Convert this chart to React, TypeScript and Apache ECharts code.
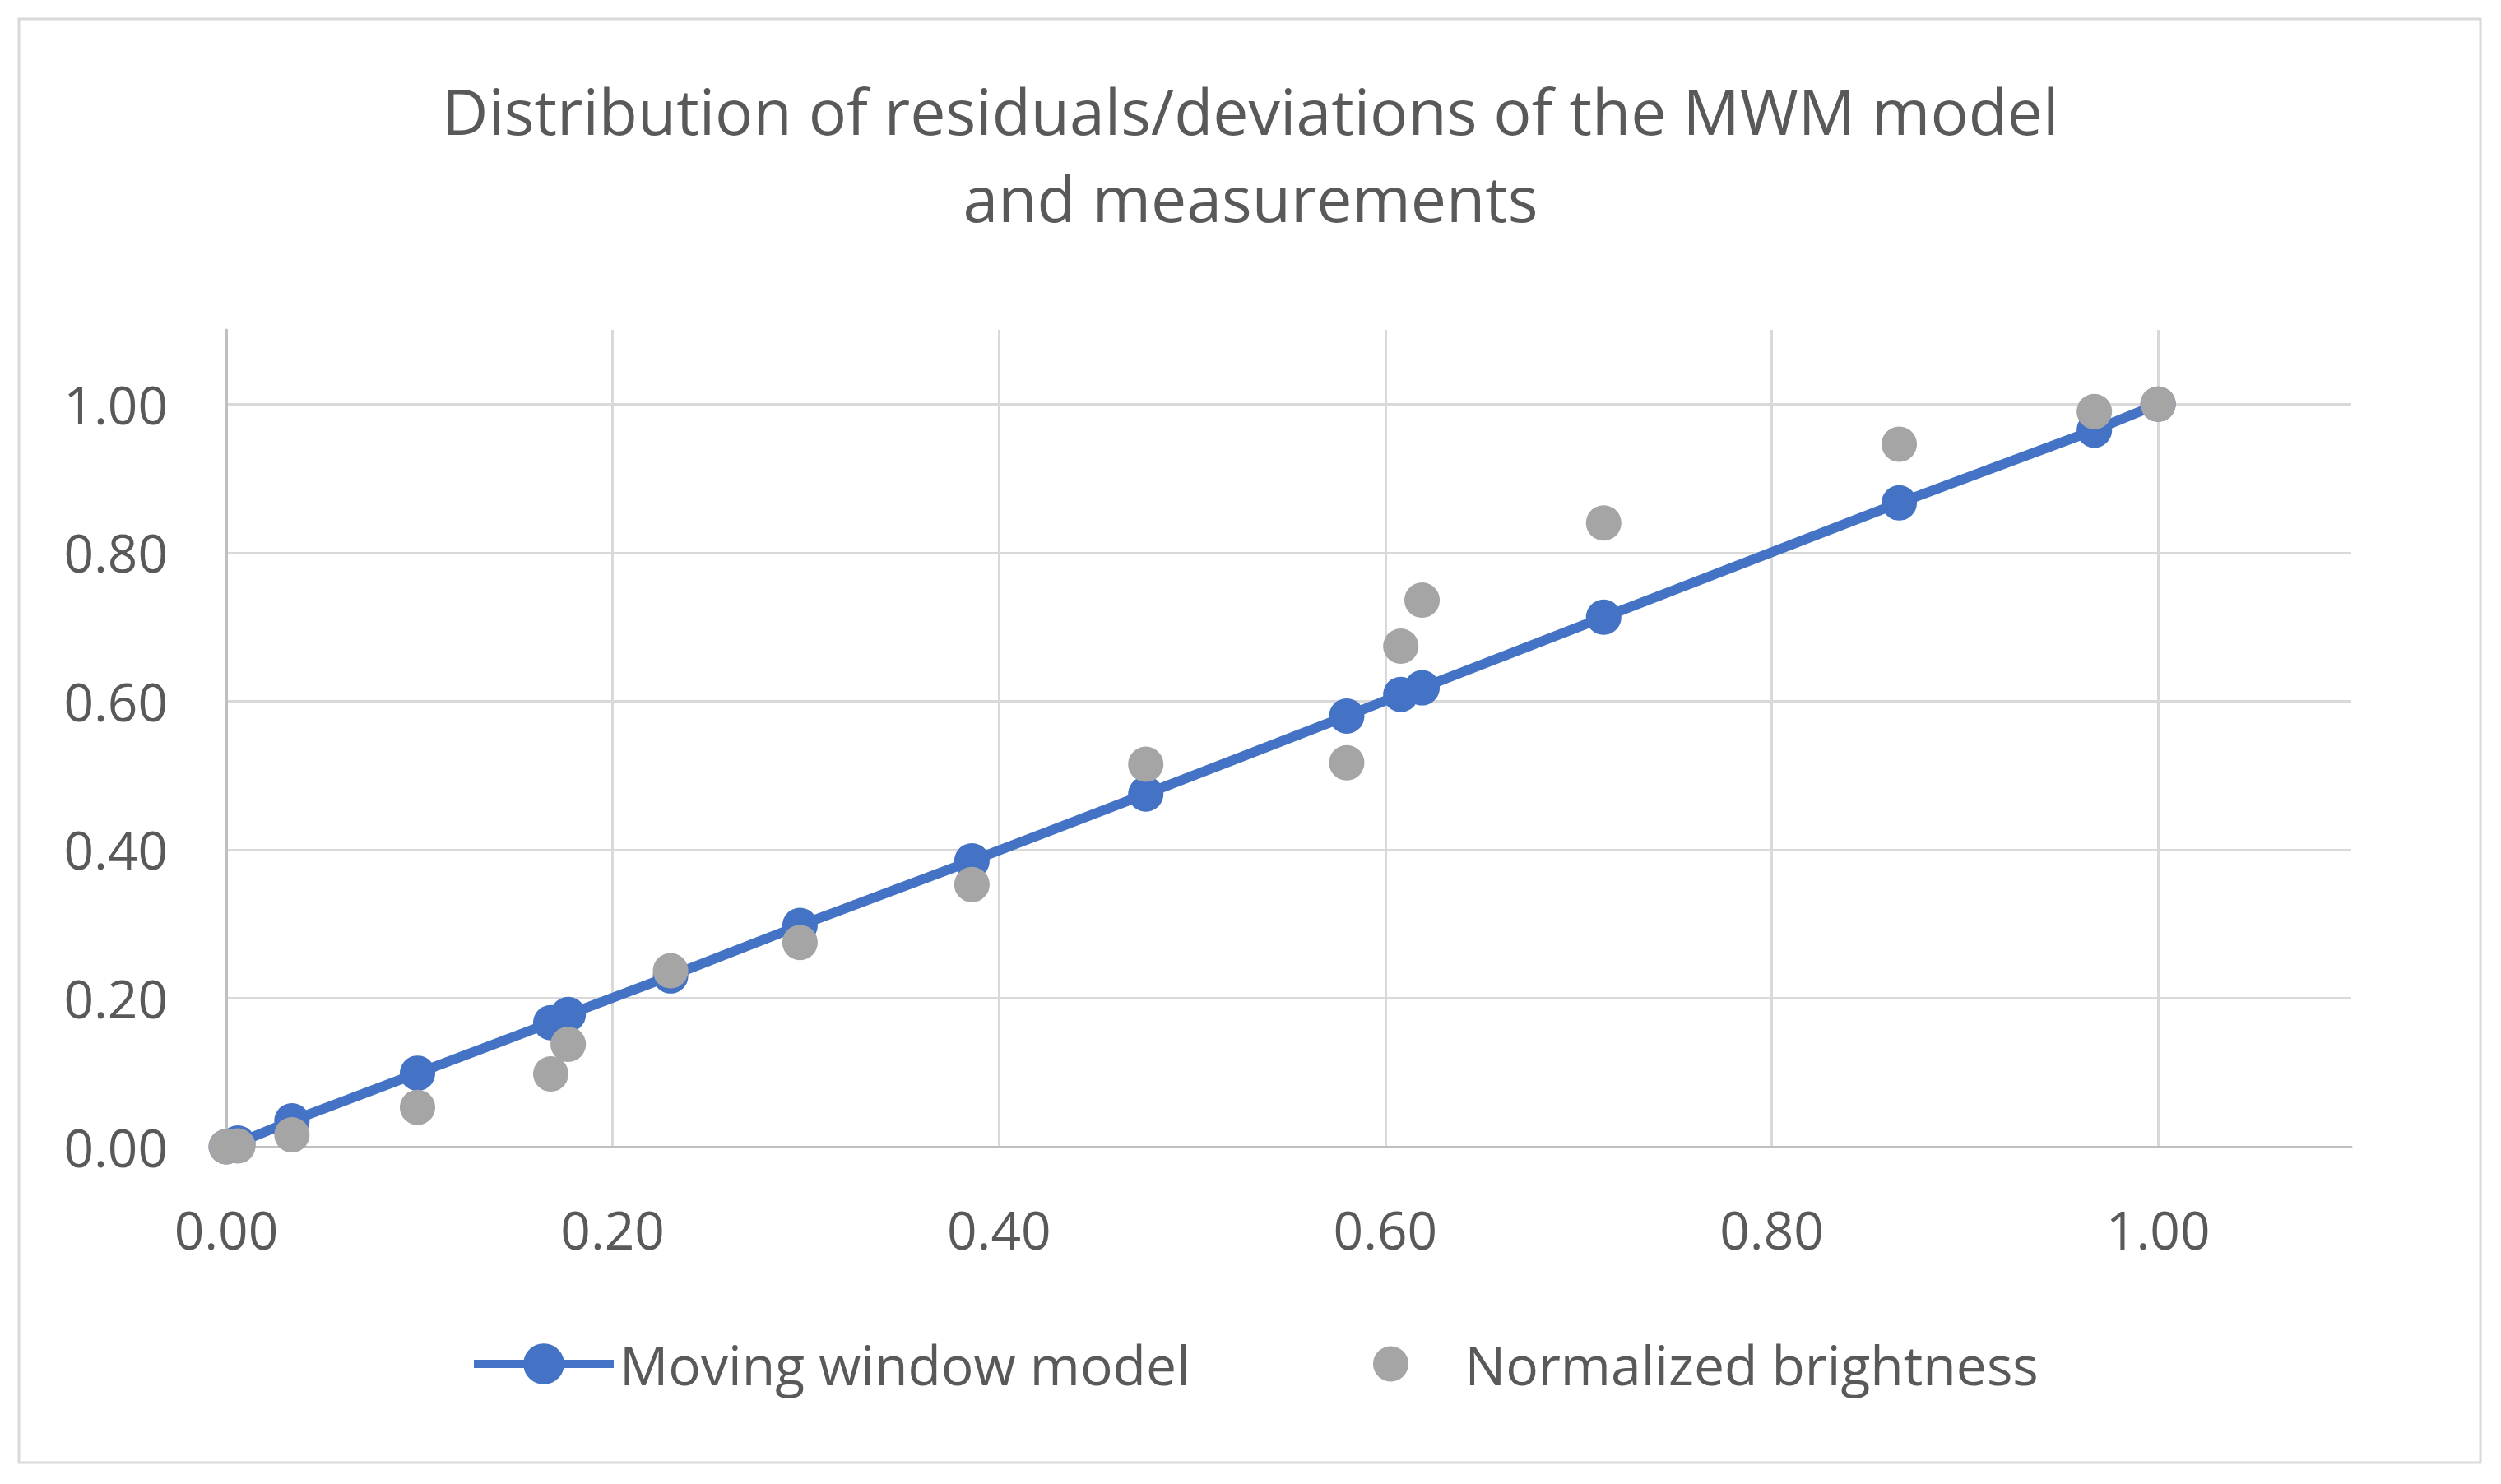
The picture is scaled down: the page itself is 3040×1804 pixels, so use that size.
import React, { useEffect, useRef } from "react";
import * as echarts from "echarts";

const titleLines = ["Distribution of residuals/deviations of the MWM model", "and measurements"];
const seriesNames = ["Moving window model", "Normalized brightness"];
const xValues = [0, 0.006, 0.034, 0.099, 0.168, 0.177, 0.23, 0.297, 0.386, 0.476, 0.58, 0.608, 0.619, 0.713, 0.866, 0.967, 1.0];
const modelValues = [0, 0.005, 0.035, 0.099, 0.167, 0.178, 0.23, 0.298, 0.385, 0.475, 0.58, 0.609, 0.618, 0.713, 0.867, 0.965, 1.0];
const brightnessValues = [0, 0.001, 0.016, 0.053, 0.098, 0.138, 0.237, 0.275, 0.353, 0.515, 0.517, 0.674, 0.736, 0.84, 0.946, 0.99, 1.0];

const FONT = "'Open Sans', 'Noto Sans', sans-serif";

export default function App() {
  const ref = useRef<HTMLDivElement>(null);
  useEffect(() => {
    document.body.style.margin = "0";
    if (!ref.current) return;
    const chart = echarts.init(ref.current, undefined, { renderer: "svg" });
    const fmt = (v: number) => (v > 1.05 ? "" : v.toFixed(2));
    const legendText = { fontFamily: FONT, fontSize: 66, color: "#595959", padding: [0, 0, 0, 2] };
    chart.setOption({
      animation: false,
      backgroundColor: "#ffffff",
      title: {
        text: titleLines.join("\n"),
        left: "center",
        top: 76,
        textStyle: {
          fontFamily: FONT,
          fontSize: 77,
          fontWeight: "normal",
          color: "#595959",
          lineHeight: 106,
        },
      },
      graphic: [
        {
          type: "rect",
          shape: { x: 23, y: 23, width: 2992, height: 1755 },
          style: { fill: "none", stroke: "#d9d9d9", lineWidth: 3 },
          silent: true,
        },
      ],
      grid: { left: 275, top: 401, width: 2583, height: 993 },
      legend: [
        {
          left: 566,
          top: 1620,
          orient: "horizontal",
          itemWidth: 170,
          itemHeight: 62,
          textStyle: legendText,
          lineStyle: { width: 10 },
          data: [seriesNames[0]],
        },
        {
          left: 1664,
          top: 1620,
          itemWidth: 166,
          itemHeight: 43,
          textStyle: legendText,
          data: [seriesNames[1]],
        },
      ],
      xAxis: {
        type: "value",
        min: 0,
        max: 1.1,
        interval: 0.2,
        axisLine: { show: true, lineStyle: { color: "#bfbfbf", width: 3 } },
        axisTick: { show: false },
        axisLabel: {
          formatter: fmt,
          showMaxLabel: false,
          margin: 68,
          fontFamily: FONT,
          fontSize: 64,
          color: "#595959",
        },
        splitLine: { show: true, showMaxLine: false, lineStyle: { color: "#d9d9d9", width: 3 } },
      },
      yAxis: {
        type: "value",
        min: 0,
        max: 1.1,
        interval: 0.2,
        axisLine: { show: true, lineStyle: { color: "#bfbfbf", width: 3 } },
        axisTick: { show: false },
        axisLabel: {
          formatter: fmt,
          showMaxLabel: false,
          margin: 71,
          fontFamily: FONT,
          fontSize: 64,
          color: "#595959",
        },
        splitLine: { show: true, showMaxLine: false, showMinLine: false, lineStyle: { color: "#d9d9d9", width: 3 } },
      },
      series: [
        {
          name: seriesNames[0],
          type: "line",
          data: xValues.map((x, i) => [x, modelValues[i]]),
          symbol: "circle",
          symbolSize: 43,
          showAllSymbol: true,
          lineStyle: { color: "#4472C4", width: 12 },
          itemStyle: { color: "#4472C4" },
          z: 2,
        },
        {
          name: seriesNames[1],
          type: "scatter",
          data: xValues.map((x, i) => [x, brightnessValues[i]]),
          symbol: "circle",
          symbolSize: 43,
          itemStyle: { color: "#A5A5A5", opacity: 1 },
          z: 3,
        },
      ],
    });
    return () => chart.dispose();
  }, []);
  return <div ref={ref} style={{ width: 3040, height: 1804 }} />;
}
